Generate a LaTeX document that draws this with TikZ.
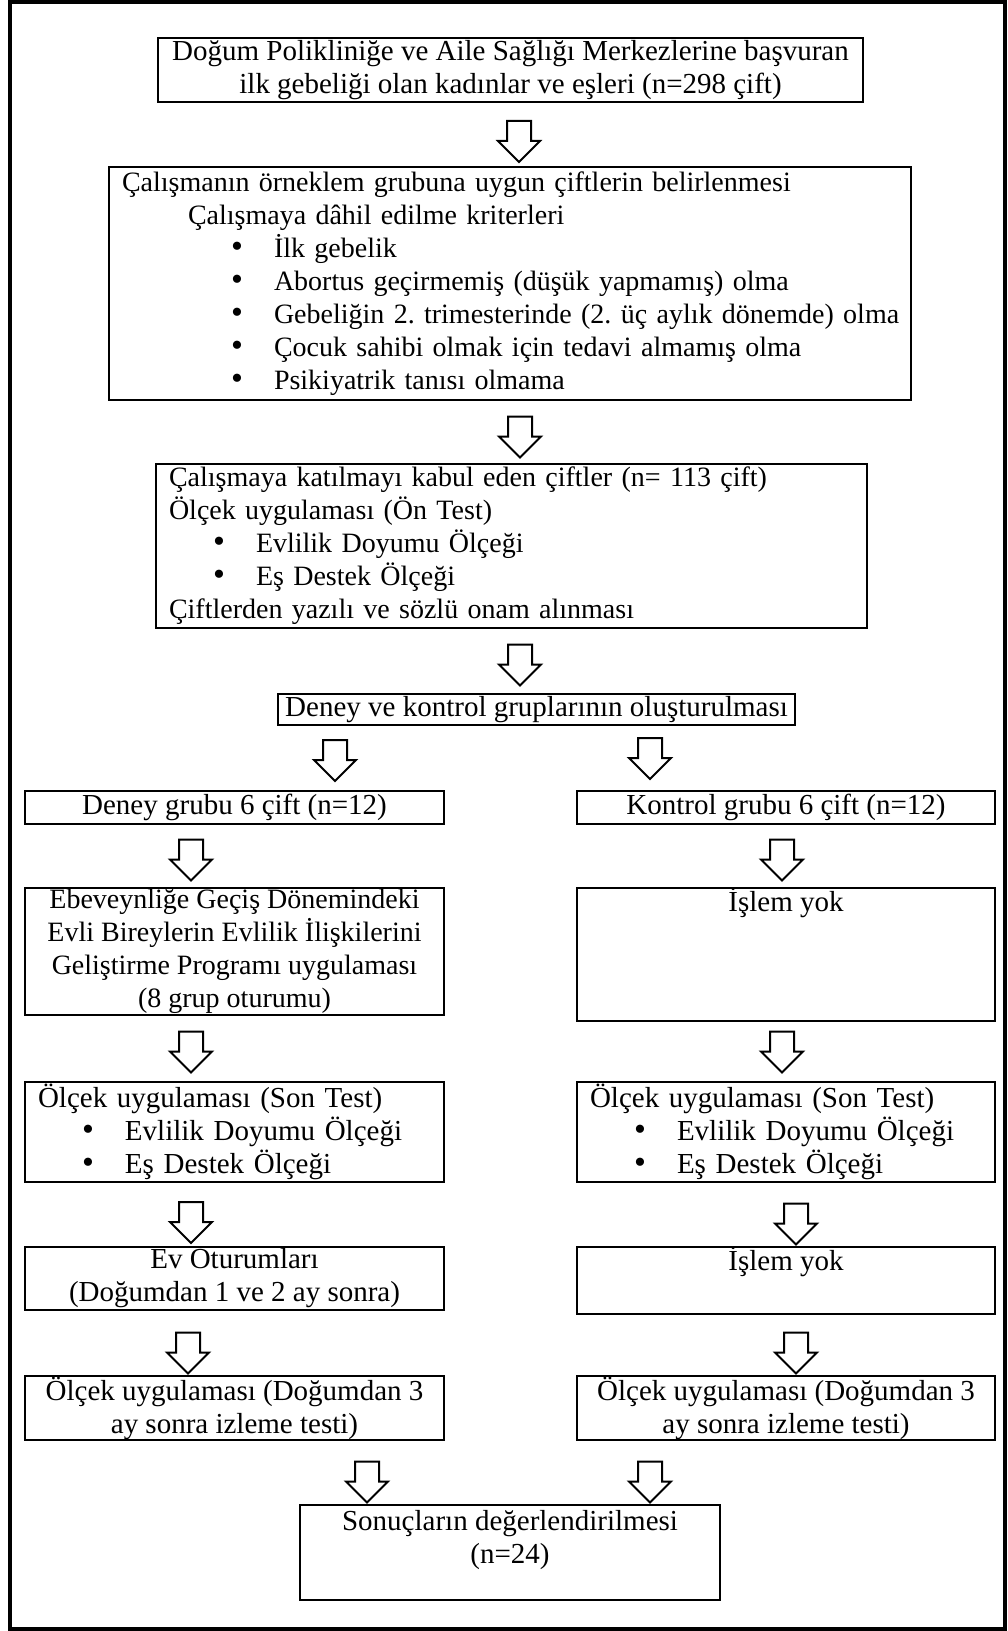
\documentclass[tikz,border=0pt]{standalone}
\usepackage{fontspec}
\setmainfont{Liberation Serif}
\usetikzlibrary{shapes.arrows}

% bullet line inside a list box
\newcommand{\bitem}[2][22pt]{\hspace*{#1}\makebox[21.5pt][l]{{\fontsize{17}{16.5}\selectfont\textbullet}}\mbox{#2}}

\begin{document}
\frenchspacing
\begin{tikzpicture}[
  x=0.5pt, y=-0.5pt, % one unit is one pixel of the layout
  font=\fontsize{14.5}{16.5}\selectfont,
  box/.style={draw, line width=1pt, anchor=north west, inner sep=0pt},
  mid/.style={box, align=center},
  list/.style={box, align=left, inner xsep=6.5pt},
  tight/.style={font=\fontsize{14}{16.5}\selectfont},
  down/.style={single arrow, draw, line width=1pt, shape border rotate=270, inner sep=5.5pt,
    minimum width=20pt, minimum height=20.5pt, single arrow head extend=4.5pt}
]
\useasboundingbox (0,0) rectangle (1007,1631);

% outer frame
\draw[line width=2pt] (10,2) rectangle (1005,1629);

% Top box
\node[mid, minimum width=352.5pt, minimum height=32pt] (b1) at (157,37) {%
  Doğum Polikliniğe ve Aile Sağlığı Merkezlerine başvuran\\
  ilk gebeliği olan kadınlar ve eşleri (n=298 çift)};
\node[down] (a1) at (519,135.5) {};

% Sample selection
\node[list, tight, text width=388pt, minimum height=116.5pt] (b2) at (108,166) {%
  Çalışmanın örneklem grubuna uygun çiftlerin belirlenmesi\\
  \hspace*{33pt}Çalışmaya dâhil edilme kriterleri\\
  \bitem[54.5pt]{İlk gebelik}\\
  \bitem[54.5pt]{Abortus geçirmemiş (düşük yapmamış) olma}\\
  \bitem[54.5pt]{Gebeliğin 2. trimesterinde (2. üç aylık dönemde) olma}\\
  \bitem[54.5pt]{Çocuk sahibi olmak için tedavi almamış olma}\\
  \bitem[54.5pt]{Psikiyatrik tanısı olmama}};
\node[down] (a2) at (520,431) {};

% Pre test
\node[list, tight, text width=342.5pt, minimum height=82pt] (b3) at (155,463) {%
  Çalışmaya katılmayı kabul eden çiftler (n= 113 çift)\\
  Ölçek uygulaması (Ön Test)\\
  \bitem{Evlilik Doyumu Ölçeği}\\
  \bitem{Eş Destek Ölçeği}\\
  Çiftlerden yazılı ve sözlü onam alınması};
\node[down] (a3) at (520,659) {};

% Groups
\node[mid, minimum width=258.5pt, minimum height=15.5pt] (grp) at (277,693)
  {Deney ve kontrol gruplarının oluşturulması};
\node[down] (a4l) at (335,754.5) {};
\node[down] (a4r) at (650,752.5) {};

\node[mid, minimum width=209.5pt, minimum height=16.5pt] (deney) at (24,790)
  {Deney grubu 6 çift (n=12)};
\node[mid, minimum width=209pt, minimum height=16.5pt] (kontrol) at (576,790)
  {Kontrol grubu 6 çift (n=12)};
\node[down] (a5l) at (191,854) {};
\node[down] (a5r) at (782,854) {};

% Program
\node[mid, tight, minimum width=209.5pt, minimum height=63.5pt] (prog) at (24,887) {%
  Ebeveynliğe Geçiş Dönemindeki\\
  Evli Bireylerin Evlilik İlişkilerini\\
  Geliştirme Programı uygulaması\\
  (8 grup oturumu)};
\node[mid, minimum width=209pt, minimum height=63.5pt] (yok1) at (576,887)
  {İşlem yok\\\strut\\\strut\\\strut};
\node[down] (a6l) at (191,1046) {};
\node[down] (a6r) at (782,1046) {};

% Post test
\node[list, text width=196.5pt, minimum height=50pt] (sonL) at (24,1081) {%
  Ölçek uygulaması (Son Test)\\
  \bitem{Evlilik Doyumu Ölçeği}\\
  \bitem{Eş Destek Ölçeği}};
\node[list, text width=196pt, minimum height=50pt] (sonR) at (576,1081) {%
  Ölçek uygulaması (Son Test)\\
  \bitem{Evlilik Doyumu Ölçeği}\\
  \bitem{Eş Destek Ölçeği}};
\node[down] (a7l) at (191,1216.5) {};
\node[down] (a7r) at (796,1218) {};

% Home sessions
\node[mid, minimum width=209.5pt, minimum height=31.5pt] (ev) at (24,1246)
  {Ev Oturumları\\(Doğumdan 1 ve 2 ay sonra)};
\node[mid, minimum width=209pt, minimum height=31.5pt] (yok2) at (576,1246)
  {İşlem yok\\\strut};
\node[down] (a8l) at (188,1347) {};
\node[down] (a8r) at (796,1347) {};

% Follow up
\node[mid, minimum width=209.5pt, minimum height=32pt] (izlL) at (24,1375)
  {Ölçek uygulaması (Doğumdan 3\\ay sonra izleme testi)};
\node[mid, minimum width=209pt, minimum height=32pt] (izlR) at (576,1375)
  {Ölçek uygulaması (Doğumdan 3\\ay sonra izleme testi)};
\node[down] (a9l) at (367,1476) {};
\node[down] (a9r) at (650,1476) {};

% Results
\node[mid, minimum width=210pt, minimum height=47.5pt] (sonuc) at (299,1504)
  {Sonuçların değerlendirilmesi\\(n=24)\\[-6pt]\strut};

\end{tikzpicture}
\end{document}
